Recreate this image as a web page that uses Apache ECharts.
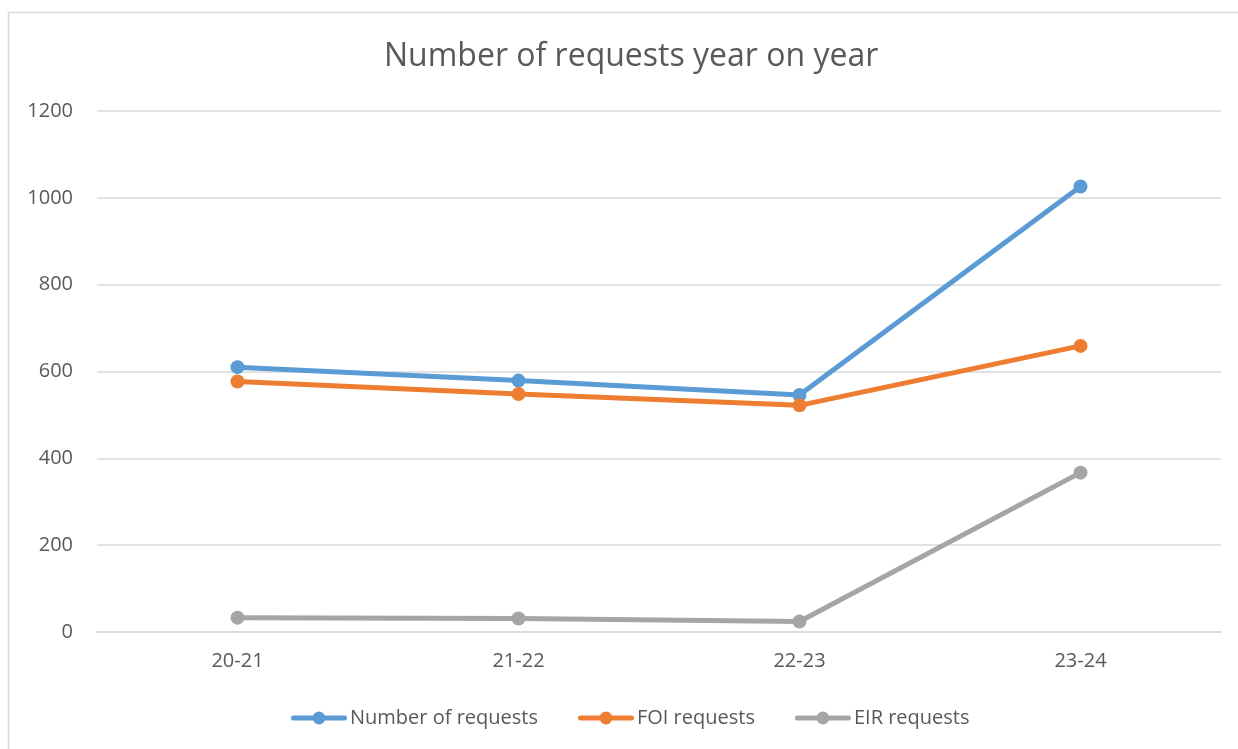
<!DOCTYPE html>
<html><head><meta charset="utf-8">
<script src="https://cdn.jsdelivr.net/npm/echarts@6/dist/echarts.min.js"></script>
<style>html,body{margin:0;padding:0;background:#fff}#c{width:1238px;height:749px}</style>
</head><body><div id="c"></div>
<script>
var categories = ['20-21', '21-22', '22-23', '23-24'];
var totalRequests = [610, 579, 546, 1026];
var foiRequests = [577, 548, 522, 659];
var eirRequests = [33, 31, 24, 367];
var yTicks = [0, 200, 400, 600, 800, 1000, 1200];

var FONT = '"Open Sans", "Liberation Sans", sans-serif';
var LEGEND_ICON = 'path://M2.5,4 L53.5,4 A2.5,2.5 0 1,1 53.5,9 L2.5,9 A2.5,2.5 0 1,1 2.5,4 Z M21.5,6.5 A6.5,6.5 0 1,1 34.5,6.5 A6.5,6.5 0 1,1 21.5,6.5 Z';
var chart = echarts.init(document.getElementById('c'));
function s(name, data, color) {
  return {
    name: name, type: 'line', data: data,
    symbol: 'circle', symbolSize: 14,
    lineStyle: { width: 5, color: color },
    itemStyle: { color: color },
    animation: false
  };
}
chart.setOption({
  animation: false,
  title: {
    text: 'Number of requests year on year', left: 379, top: 36,
    textStyle: { fontFamily: FONT, fontSize: 32, fontWeight: 'normal', color: '#595959' }
  },
  graphic: [{
    type: 'rect', shape: { x: 8.5, y: 12.5, width: 1240, height: 760 },
    style: { fill: 'none', stroke: '#d9d9d9', lineWidth: 1.5 }, silent: true
  }],
  legend: {
    top: 703, left: 286, itemWidth: 56, itemHeight: 13, itemGap: 40,
    icon: LEGEND_ICON,
    textStyle: { fontFamily: FONT, fontSize: 20, color: '#595959', padding: [0, 0, 0, -2] },
    data: ['Number of requests', 'FOI requests', 'EIR requests']
  },
  grid: { left: 97, right: 17, top: 111, bottom: 117 },
  xAxis: {
    type: 'category', data: categories, boundaryGap: true,
    axisLine: { lineStyle: { color: '#d9d9d9', width: 1.5 } },
    axisTick: { show: false },
    axisLabel: { fontFamily: FONT, fontSize: 20, color: '#595959', margin: 19 }
  },
  yAxis: {
    type: 'value', min: yTicks[0], max: yTicks[yTicks.length - 1], interval: 200,
    axisLine: { show: false }, axisTick: { show: false },
    splitLine: { lineStyle: { color: '#d9d9d9', width: 1.5 } },
    axisLabel: { fontFamily: FONT, fontSize: 20, color: '#595959', margin: 24,
      formatter: function (v) { return String(v); } }
  },
  series: [
    s('Number of requests', totalRequests, '#5b9bd5'),
    s('FOI requests', foiRequests, '#ed7d31'),
    s('EIR requests', eirRequests, '#a5a5a5')
  ]
});
</script></body></html>
